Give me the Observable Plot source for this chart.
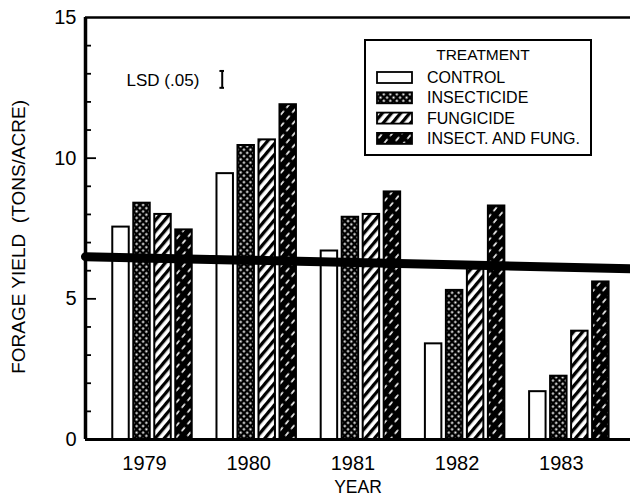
<!DOCTYPE html>
<html><head><meta charset="utf-8">
<script src="https://cdn.jsdelivr.net/npm/d3@7"></script>
<script src="https://cdn.jsdelivr.net/npm/@observablehq/plot@0.6"></script>
<style>body{margin:0;background:#fff}#chart{width:630px;height:501px}</style>
</head><body><div id="chart"></div>
<script>
const years = ["1979", "1980", "1981", "1982", "1983"];
const treatments = ["CONTROL", "INSECTICIDE", "FUNGICIDE", "INSECT. AND FUNG."];
const control     = [7.55, 9.45, 6.7, 3.4, 1.7];
const insecticide = [8.4, 10.45, 7.9, 5.3, 2.25];
const fungicide   = [8.0, 10.65, 8.0, 6.15, 3.85];
const insectFung  = [7.45, 11.9, 8.8, 8.3, 5.6];
const yTicks = [0, 5, 10, 15];
const yMinorTicks = d3.range(0, 16);
const lsdValue = 0.6;
const lsdCenter = 12.8;
const refLine = [6.5, 6.07];
const legendTitle = "TREATMENT";

const series = [control, insecticide, fungicide, insectFung];
const patIds = ["pat-control", "pat-insect", "pat-fung", "pat-both"];
const rows = [];
treatments.forEach((t, j) => years.forEach((y, i) => rows.push({year: y, i, j, treatment: t, value: series[j][i]})));

const xmin = -0.643, xmax = 4.587;
const pitch = 0.2015, barW = 0.158;
const font = "'Liberation Sans', Arial, sans-serif";

const marks = [];
treatments.forEach((t, j) => {
  marks.push(Plot.rect(rows.filter(d => d.j === j), {
    x1: d => d.i + (j - 1.5) * pitch - barW / 2,
    x2: d => d.i + (j - 1.5) * pitch + barW / 2,
    y1: 0, y2: "value",
    fill: j === 0 ? "white" : `url(#${patIds[j]})`,
    stroke: "black", strokeWidth: 2
  }));
});
// thick horizontal line
marks.push(Plot.line(refLine.map((v, k) => ({x: k === 0 ? xmin : xmax, y: v})), {x: "x", y: "y", stroke: "black", strokeWidth: 9}));
// frame
marks.push(Plot.ruleY([15], {stroke: "black", strokeWidth: 2.5}));
marks.push(Plot.ruleY([0], {stroke: "black", strokeWidth: 3}));
marks.push(Plot.ruleX([xmin], {y1: 0, y2: 15, stroke: "black", strokeWidth: 3.5}));
// ticks (inward)
marks.push(Plot.ruleY(yMinorTicks.filter(v => v % 5 !== 0), {y: d => d, x1: xmin, x2: xmin + 6 / 104.2, stroke: "black", strokeWidth: 1.8}));
marks.push(Plot.ruleY(yTicks.filter(v => v > 0 && v < 15), {y: d => d, x1: xmin, x2: xmin + 11 / 104.2, stroke: "black", strokeWidth: 1.8}));
// tick labels
marks.push(Plot.text(yTicks, {y: d => d, frameAnchor: "left", textAnchor: "end", dx: -9, fontSize: 20, fill: "black"}));
marks.push(Plot.text(years, {x: (d, i) => i, y: 0, dx: -8, dy: 24, fontSize: 20, fill: "black"}));
marks.push(Plot.text(["YEAR"], {frameAnchor: "bottom", textAnchor: "middle", dy: 53, fontSize: 17.5, fill: "black"}));
marks.push(Plot.text(["FORAGE YIELD  (TONS/ACRE)"], {frameAnchor: "left", textAnchor: "middle", y: 7.2, rotate: -90, dx: -67, fontSize: 19, fill: "black"}));
// LSD
marks.push(Plot.text(["LSD (.05)"], {x: 0.1, y: lsdCenter, fontSize: 17, fill: "black", dy: 1}));
marks.push(Plot.ruleX([0.669], {y1: lsdCenter - lsdValue / 2, y2: lsdCenter + lsdValue / 2, stroke: "black", strokeWidth: 2}));
marks.push(Plot.ruleY([lsdCenter - lsdValue / 2, lsdCenter + lsdValue / 2], {y: d => d, x1: 0.669 - 0.022, x2: 0.669 + 0.022, stroke: "black", strokeWidth: 2}));

const plot = Plot.plot({
  width: 630, height: 501,
  marginLeft: 85, marginRight: 0, marginTop: 17, marginBottom: 62,
  x: {domain: [xmin, xmax], axis: null},
  y: {domain: [0, 15], axis: null},
  style: {fontFamily: font, background: "white", color: "black"},
  marks
});
document.getElementById("chart").appendChild(plot);

const svg = d3.select(plot);
const defs = svg.insert("defs", ":first-child");
let p = defs.append("pattern").attr("id", "pat-insect").attr("patternUnits", "userSpaceOnUse")
  .attr("width", 4.6).attr("height", 4.6).attr("patternTransform", "rotate(45)");
p.append("rect").attr("width", 4.6).attr("height", 4.6).attr("fill", "black");
p.append("rect").attr("x", 1.3).attr("y", 1.3).attr("width", 2).attr("height", 2).attr("fill", "white");
p = defs.append("pattern").attr("id", "pat-fung").attr("patternUnits", "userSpaceOnUse")
  .attr("width", 7).attr("height", 7).attr("patternTransform", "rotate(40)");
p.append("rect").attr("width", 7).attr("height", 7).attr("fill", "white");
p.append("rect").attr("width", 3.3).attr("height", 7).attr("fill", "black");
p = defs.append("pattern").attr("id", "pat-both").attr("patternUnits", "userSpaceOnUse")
  .attr("width", 7.5).attr("height", 9).attr("patternTransform", "rotate(40)");
p.append("rect").attr("width", 7.5).attr("height", 9).attr("fill", "black");
p.append("rect").attr("x", 3).attr("y", 1.5).attr("width", 1.6).attr("height", 5).attr("fill", "white");

// legend
const lg = svg.append("g").attr("font-family", font).attr("fill", "black").attr("text-anchor", "start");
lg.append("rect").attr("x", 365).attr("y", 40).attr("width", 226).attr("height", 115)
  .attr("fill", "white").attr("stroke", "black").attr("stroke-width", 2);
lg.append("text").attr("x", 483).attr("y", 55).attr("dy", "0.35em").attr("text-anchor", "middle")
  .style("font-size", "15.5px").text(legendTitle);
treatments.forEach((t, j) => {
  const cy = 77.5 + j * 20.3;
  lg.append("rect").attr("x", 377).attr("y", cy - 5.5).attr("width", 35).attr("height", 11)
    .attr("fill", j === 0 ? "white" : `url(#${patIds[j]})`).attr("stroke", "black").attr("stroke-width", 1.8);
  lg.append("text").attr("x", 427).attr("y", cy).attr("dy", "0.35em").attr("text-anchor", "start")
    .style("font-size", "16px").text(t);
});
</script></body></html>
